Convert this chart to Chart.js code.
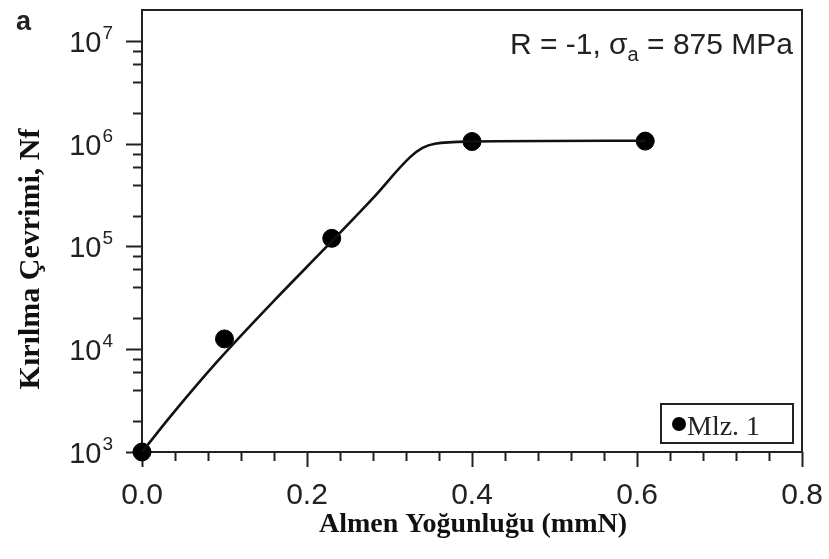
<!DOCTYPE html>
<html>
<head>
<meta charset="utf-8">
<script src="https://cdn.jsdelivr.net/npm/chart.js@4/dist/chart.umd.min.js"></script>
<style>
    body { margin: 0; background: #fff; }
    #wrap { width: 829px; height: 559px; }
</style>
</head>
<body>
<div id="wrap"><canvas id="lineChart" width="829" height="559"></canvas></div>
<script>

/// DATA ///

// measured points (Almen intensity, cycles to failure)
const almenX = [0, 0.1, 0.23, 0.4, 0.61];
const cyclesNf = [1000, 12600, 120000, 1050000, 1060000];

// fitted trend curve
const fitX = [0, 0.038, 0.09, 0.161, 0.224, 0.28, 0.325, 0.34, 0.355, 0.4, 0.61];
const fitNf = [1000, 2400, 7400, 30200, 100000, 295000, 740000, 910000, 1000000, 1050000, 1070000];

// axes
const xMajorTicks = [0, 0.2, 0.4, 0.6, 0.8];
const xTickLabels = ['0.0', '0.2', '0.4', '0.6', '0.8'];
const yMajorTicks = [1e3, 1e4, 1e5, 1e6, 1e7];
const yTickExponents = ['3', '4', '5', '6', '7'];
const yMinorFactors = [2, 4, 6, 8];

const seriesName = 'Mlz. 1';
const xTitle = 'Almen Yoğunluğu (mmN)';
const yTitle = 'Kırılma Çevrimi, Nf';


/// AXES + TEXT PLUGIN ///

const SANS = '"Liberation Sans", Arial, sans-serif';
const SERIF = '"Liberation Serif", "Times New Roman", serif';

const frameAndText = {
    id: 'frameAndText',
    beforeDatasetsDraw(chart) {
        const ctx = chart.ctx;
        const a = chart.chartArea;
        const xs = chart.scales.x;
        const ys = chart.scales.y;

        ctx.save();
        ctx.strokeStyle = '#222';
        ctx.lineWidth = 2;
        ctx.strokeRect(a.left, a.top, a.right - a.left, a.bottom - a.top);

        // x ticks, every 0.04 with longer ones on the labelled values
        ctx.beginPath();
        for (let i = 0; i <= 20; i++) {
            const v = i * 0.04;
            const px = Math.round(xs.getPixelForValue(v)) + 0.5;
            const major = i % 5 === 0;
            ctx.moveTo(px, a.bottom);
            ctx.lineTo(px, a.bottom + (major ? 15 : 9));
        }
        // y ticks
        yMajorTicks.forEach((v, i) => {
            const py = Math.round(ys.getPixelForValue(v)) + 0.5;
            ctx.moveTo(a.left, py);
            ctx.lineTo(a.left - 16, py);
            if (i < yMajorTicks.length - 1) {
                yMinorFactors.forEach(f => {
                    const my = Math.round(ys.getPixelForValue(v * f)) + 0.5;
                    ctx.moveTo(a.left, my);
                    ctx.lineTo(a.left - 9, my);
                });
            }
        });
        ctx.stroke();
        ctx.restore();
    },
    afterDraw(chart) {
        const ctx = chart.ctx;
        const xs = chart.scales.x;
        const ys = chart.scales.y;

        ctx.save();
        ctx.fillStyle = '#222';

        // x tick labels
        ctx.font = '30px ' + SANS;
        ctx.textAlign = 'center';
        ctx.textBaseline = 'alphabetic';
        xMajorTicks.forEach((v, i) => {
            ctx.fillText(xTickLabels[i], xs.getPixelForValue(v), 504);
        });

        // y tick labels as 10 with a raised exponent
        yMajorTicks.forEach((v, i) => {
            const py = ys.getPixelForValue(v);
            ctx.textAlign = 'right';
            ctx.font = '19px ' + SANS;
            ctx.fillText(yTickExponents[i], 113, py - 2);
            const ew = ctx.measureText(yTickExponents[i]).width;
            ctx.font = '29px ' + SANS;
            ctx.fillText('10', 113 - ew - 1, py + 11);
        });

        // panel letter
        ctx.textAlign = 'left';
        ctx.font = 'bold 27px ' + SANS;
        ctx.fillText('a', 16, 30);

        // load condition note
        ctx.font = '30px ' + SANS;
        ctx.textAlign = 'right';
        const tail = ' = 875 MPa';
        ctx.fillText(tail, 793, 54);
        let x = 793 - ctx.measureText(tail).width;
        ctx.font = '20px ' + SANS;
        ctx.fillText('a', x, 61);
        x -= ctx.measureText('a').width;
        ctx.font = '30px ' + SANS;
        ctx.fillText('R = -1, σ', x, 54);

        // axis titles
        ctx.fillStyle = '#111';
        ctx.textAlign = 'center';
        ctx.font = 'bold 28px ' + SERIF;
        ctx.fillText(xTitle, 473, 532);
        ctx.save();
        ctx.translate(39, 259);
        ctx.rotate(-Math.PI / 2);
        ctx.font = 'bold 30px ' + SERIF;
        ctx.fillText(yTitle, 0, 0);
        ctx.restore();

        // legend box
        ctx.strokeStyle = '#222';
        ctx.lineWidth = 2;
        ctx.strokeRect(661, 404, 132, 39);
        ctx.beginPath();
        ctx.arc(679, 424, 7, 0, 2 * Math.PI);
        ctx.fillStyle = '#000';
        ctx.fill();
        ctx.fillStyle = '#222';
        ctx.textAlign = 'left';
        ctx.font = '28px ' + SERIF;
        ctx.fillText(seriesName, 687, 435);

        ctx.restore();
    }
};


/// CHART ///

const ctx = document.getElementById('lineChart').getContext('2d');

const config = {
    type: 'line',
    plugins: [frameAndText],
    data: {
        datasets: [{
            label: 'fit',
            data: fitX.map((x, i) => ({ x: x, y: fitNf[i] })),
            borderColor: '#111',
            borderWidth: 2.6,
            pointRadius: 0,
            cubicInterpolationMode: 'monotone',
            fill: false
        }, {
            label: seriesName,
            data: almenX.map((x, i) => ({ x: x, y: cyclesNf[i] })),
            showLine: false,
            pointRadius: 9,
            pointBackgroundColor: '#000',
            pointBorderColor: '#000',
            clip: false
        }]
    },
    options: {
        responsive: false,
        animation: false,
        devicePixelRatio: 1,
        layout: {
            padding: { left: 142, top: 10, right: 27, bottom: 107 }
        },
        scales: {
            x: { type: 'linear', min: 0, max: 0.8, display: false },
            y: { type: 'logarithmic', min: 1000, max: 2e7, display: false }
        },
        plugins: {
            legend: { display: false },
            tooltip: { enabled: false }
        }
    }
};

const myChart = new Chart(ctx, config);
</script>
</body>
</html>
